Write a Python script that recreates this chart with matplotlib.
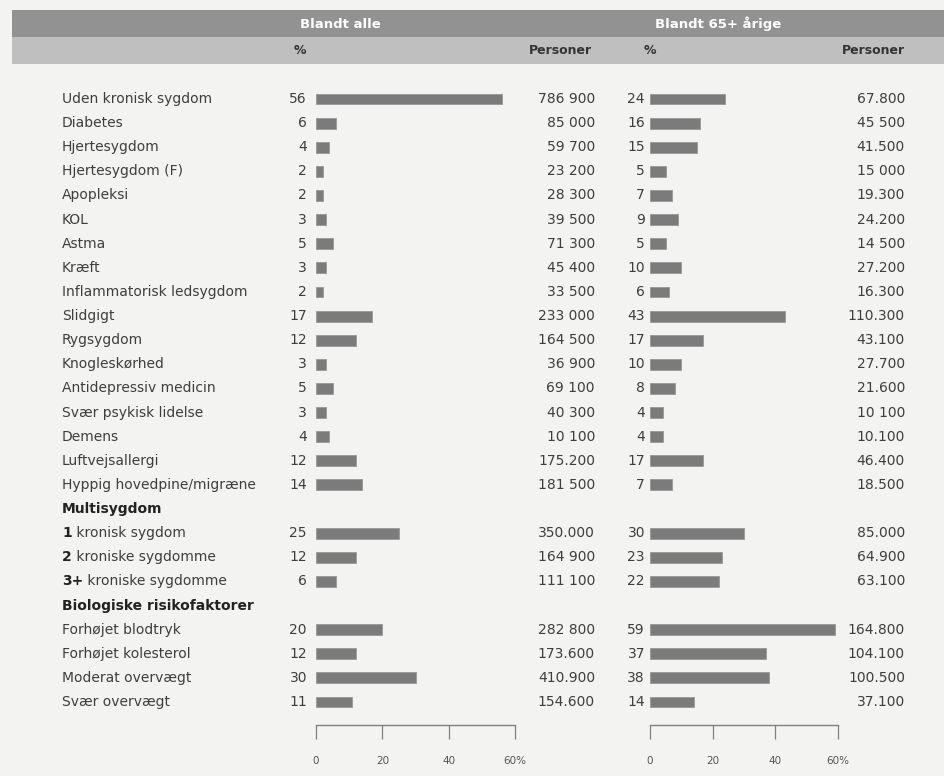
import matplotlib
matplotlib.use("Agg")
import matplotlib.pyplot as plt
import matplotlib.transforms as mtransforms
from matplotlib.patches import Rectangle

W, H = 945, 776
BG = '#f3f3f1'
BAR_COLOR = '#7b7b7b'
TEXT_COLOR = '#3e3e3e'
FS = 10
plt.rcParams['font.family'] = ['DejaVu Sans']

# rows: label, kind ('row' or 'head')
labels = ['Uden kronisk sygdom', 'Diabetes', 'Hjertesygdom', 'Hjertesygdom (F)',
          'Apopleksi', 'KOL', 'Astma', 'Kræft', 'Inflammatorisk ledsygdom',
          'Slidgigt', 'Rygsygdom', 'Knogleskørhed', 'Antidepressiv medicin',
          'Svær psykisk lidelse', 'Demens', 'Luftvejsallergi',
          'Hyppig hovedpine/migræne', 'Multisygdom',
          '1 kronisk sygdom', '2 kroniske sygdomme', '3+ kroniske sygdomme',
          'Biologiske risikofaktorer',
          'Forhøjet blodtryk', 'Forhøjet kolesterol', 'Moderat overvægt', 'Svær overvægt']
headings = ['Multisygdom', 'Biologiske risikofaktorer']

# None for heading rows
pct_all = [56, 6, 4, 2, 2, 3, 5, 3, 2, 17, 12, 3, 5, 3, 4, 12, 14, None,
           25, 12, 6, None, 20, 12, 30, 11]
pers_all = ['786 900', '85 000', '59 700', '23 200', '28 300', '39 500', '71 300',
            '45 400', '33 500', '233 000', '164 500', '36 900', '69 100', '40 300',
            '10 100', '175.200', '181 500', None, '350.000', '164 900', '111 100', None,
            '282 800', '173.600', '410.900', '154.600']
pct_65 = [24, 16, 15, 5, 7, 9, 5, 10, 6, 43, 17, 10, 8, 4, 4, 17, 7, None,
          30, 23, 22, None, 59, 37, 38, 14]
pers_65 = ['67.800', '45 500', '41.500', '15 000', '19.300', '24.200', '14 500',
           '27.200', '16.300', '110.300', '43.100', '27.700', '21.600', '10 100',
           '10.100', '46.400', '18.500', None, '85.000', '64.900', '63.100', None,
           '164.800', '104.100', '100.500', '37.100']

group_titles = ['Blandt alle', 'Blandt 65+ årige']
xticks = [0, 20, 40, 60]
xticklabels = ['0', '20', '40', '60%']

fig = plt.figure(figsize=(W / 100, H / 100), dpi=100, facecolor=BG)

def fx(px):
    return px / W

def fy(py):
    return 1 - py / H

# header bands
fig.add_artist(Rectangle((fx(12), fy(37)), fx(933), 27 / H, transform=fig.transFigure,
                         facecolor='#929292', edgecolor='none'))
fig.add_artist(Rectangle((fx(12), fy(64)), fx(933), 27 / H, transform=fig.transFigure,
                         facecolor='#bfbfbf', edgecolor='none'))
fig.text(fx(340), fy(24), group_titles[0], color='white', fontsize=9.5,
         fontweight='bold', ha='center', va='center')
fig.text(fx(718), fy(24), group_titles[1], color='white', fontsize=9.5,
         fontweight='bold', ha='center', va='center')
for x, t, ha in [(300, '%', 'center'), (592, 'Personer', 'right'),
                 (650, '%', 'center'), (905, 'Personer', 'right')]:
    fig.text(fx(x), fy(51), t, color='#333333', fontsize=9, fontweight='bold',
             ha=ha, va='center')

n = len(labels)
top_px, bot_px = 80, 725
row_h = (702 - 99) / (n - 1)
y_top = -(99 - top_px) / row_h
y_bot = (n - 1) + (bot_px - 702) / row_h

panels = [
    (316, 515, pct_all, pers_all, 307, 595),
    (650, 838, pct_65, pers_65, 645, 905),
]

for i, (x0, x1, pcts, pers, pct_x, pers_x) in enumerate(panels):
    ax = fig.add_axes([fx(x0), fy(bot_px), fx(x1 - x0), (bot_px - top_px) / H])
    ax.set_facecolor('none')
    ax.set_xlim(0, 60)
    ax.set_ylim(y_bot, y_top)
    ys = [k for k, v in enumerate(pcts) if v is not None]
    vals = [v for v in pcts if v is not None]
    ax.barh(ys, vals, height=0.45, color=BAR_COLOR, edgecolor='#999999', linewidth=0.6)
    for s in ['top', 'right', 'left']:
        ax.spines[s].set_visible(False)
    ax.spines['bottom'].set_color('#808080')
    ax.spines['bottom'].set_linewidth(1.0)
    ax.set_yticks([])
    ax.set_xticks(xticks)
    ax.set_xticklabels(xticklabels, fontsize=7.5, color='#555555')
    ax.tick_params(axis='x', direction='out', length=10, width=0.9, color='#808080', pad=12)

    tr = mtransforms.blended_transform_factory(fig.transFigure, ax.transData)
    for k in range(n):
        if pcts[k] is None:
            continue
        ax.text(fx(pct_x), k, str(pcts[k]), transform=tr, ha='right', va='center',
                fontsize=FS, color=TEXT_COLOR)
        ax.text(fx(pers_x), k, pers[k], transform=tr, ha='right', va='center',
                fontsize=FS, color=TEXT_COLOR)

    if i == 0:
        for k, lab in enumerate(labels):
            if lab in headings:
                ax.text(fx(62), k, lab, transform=tr, ha='left', va='center',
                        fontsize=FS, fontweight='bold', color='#222222')
            elif lab[0].isdigit():
                num, rest = lab.split(' ', 1)
                t = ax.text(fx(62), k, num, transform=tr, ha='left', va='center',
                            fontsize=FS, fontweight='bold', color='#222222')
                ax.annotate(' ' + rest, xy=(1, 0.5), xycoords=t, ha='left', va='center',
                            fontsize=FS, color=TEXT_COLOR)
            else:
                ax.text(fx(62), k, lab, transform=tr, ha='left', va='center',
                        fontsize=FS, color=TEXT_COLOR)

fig.savefig('out.png', dpi=100, facecolor=BG)
